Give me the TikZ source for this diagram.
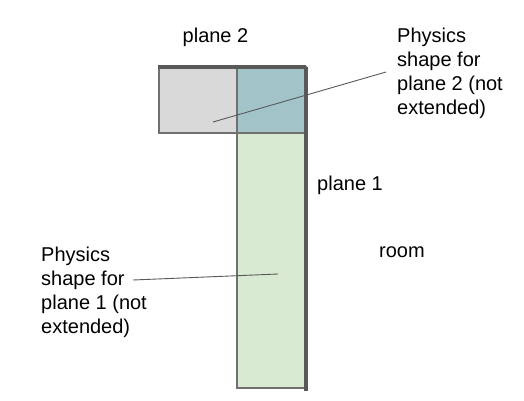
\documentclass[tikz,border=0pt]{standalone}
\usepackage{fontspec}
\setmainfont{Liberation Sans}
\definecolor{gfill}{HTML}{D9D9D9}
\definecolor{tfill}{HTML}{A2C4C9}
\definecolor{lfill}{HTML}{D9EAD3}
\definecolor{edge}{HTML}{707070}
\definecolor{bar}{HTML}{595959}
\begin{document}
\begin{tikzpicture}[x=1pt,y=-1pt,
  box/.style={draw=edge,line width=1.2pt},
  wall/.style={draw=bar,line width=4pt},
  lbl/.style={font=\fontsize{20}{24}\selectfont,inner sep=0pt,text=black},
  ptr/.style={draw=bar,line width=0.9pt}]
\useasboundingbox (0,0) rectangle (524,400);
\fill[white] (0,0) rectangle (524,400);
\draw[box,fill=lfill] (237,133) rectangle (306,388);
\draw[box,fill=gfill] (159,67) rectangle (237,133);
\draw[box,fill=tfill] (237,67) rectangle (306,133);
\coordinate (tl) at (158,66.5);
\coordinate (tr) at (306,66.5);
\coordinate (br) at (306,391);
\draw[wall] (tl) -- (tr);
\draw[wall] (tr) -- (br);
\node[lbl] (p2) at (215.5,37) {plane 2};
\node[lbl,anchor=west] (p1) at (317,185) {plane 1};
\node[lbl,anchor=west] (room) at (379,252) {room};
\node[lbl,anchor=west,align=left] (ps2) at (397,73) {Physics\\shape for\\plane 2 (not\\extended)};
\node[lbl,anchor=west,align=left] (ps1) at (41,292) {Physics\\shape for\\plane 1 (not\\extended)};
\coordinate (a2) at (213,122);
\coordinate (b2) at (386,72);
\coordinate (a1) at (133,280);
\coordinate (b1) at (278,274);
\draw[ptr] (a2) -- (b2);
\draw[ptr] (a1) -- (b1);
\end{tikzpicture}
\end{document}
